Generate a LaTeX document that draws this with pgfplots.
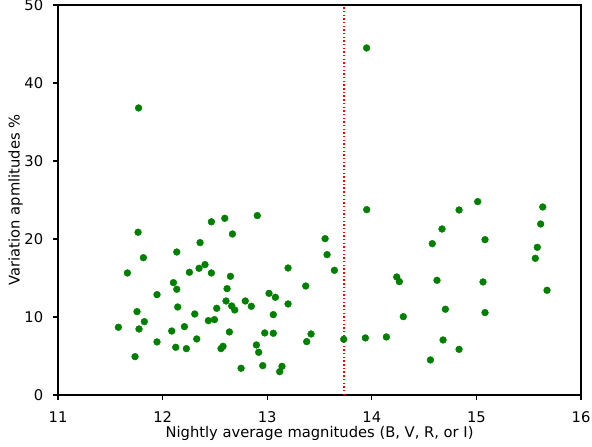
\documentclass[border=0pt]{standalone}
\usepackage{pgfplots}
\pgfplotsset{compat=1.18}
\usepackage{fontspec}
\setmainfont{DejaVu Sans}
\definecolor{mplgreen}{HTML}{008000}
\begin{document}
\begin{tikzpicture}
\begin{axis}[
  name=ax,
  scale only axis,
  width=376.6pt, height=280.8pt,
  xmin=11, xmax=16, ymin=0, ymax=50,
  xtick={11,12,...,16}, ytick={0,10,...,50},
  tick align=outside, xtick pos=bottom, ytick pos=left,
  major tick length=3.5pt,
  tick style={line width=0.8pt, black},
  axis line style={line width=0.8pt},
  /pgf/number format/assume math mode=true,
  ticklabel style={font=\fontsize{10.6}{12}\selectfont},
  xticklabel style={yshift=-5pt},
  yticklabel style={xshift=-3.7pt},
  every axis x label/.style={at={([yshift=-30.5pt]axis description cs:0.5,0)}, anchor=base, font=\fontsize{10.6}{12}\selectfont},
  every axis y label/.style={at={([xshift=-27.6pt]axis description cs:0,0.5)}, anchor=base, rotate=90, font=\fontsize{10.6}{12}\selectfont},
  xlabel={Nightly average magnitudes (B, V, R, or I)},
  ylabel={Variation apmlitudes \%},
  clip=false,
]
\addplot[only marks, mark=*, mark size=2.45pt, mark options={solid, fill=mplgreen, draw=mplgreen, line width=0.3pt}] coordinates {
(11.765,20.86) (12.905,23.0) (12.466,22.2) (12.594,22.65) (12.667,20.64)
(12.358,19.53) (12.135,18.33) (11.816,17.6) (11.663,15.64) (12.256,15.73)
(12.348,16.24) (12.405,16.71) (12.466,15.64) (12.648,15.21) (13.199,16.28)
(13.368,13.97) (12.103,14.4) (12.135,13.55) (11.946,12.86) (12.616,13.63)
(13.017,13.03) (13.078,12.52) (12.606,12.05) (12.79,12.05) (12.848,11.37)
(12.66,11.41) (12.689,10.9) (12.517,11.11) (12.144,11.28) (13.199,11.67)
(13.058,10.3) (12.307,10.38) (11.755,10.68) (12.437,9.53) (12.495,9.66)
(11.825,9.4) (11.577,8.68) (11.774,8.46) (12.208,8.76) (12.087,8.2)
(12.638,8.08) (12.976,7.95) (13.058,7.91) (11.946,6.8) (12.326,7.18)
(12.125,6.11) (12.227,5.94) (12.577,6.24) (12.558,5.94) (12.896,6.41)
(12.918,5.47) (11.736,4.91) (12.75,3.42) (12.957,3.76) (13.141,3.67)
(13.119,2.99) (13.419,7.82) (13.377,6.84)
(13.553,20.04) (13.572,17.99) (13.642,15.98) (13.731,7.14) (13.951,23.76)
(13.938,7.31) (14.139,7.44) (14.238,15.13) (14.263,14.53) (14.301,10.04)
(14.578,19.4) (14.671,21.28) (14.623,14.7) (14.703,10.99) (14.681,7.05)
(14.56,4.49) (14.834,5.85) (14.834,23.72) (15.012,24.79) (15.082,19.91)
(15.063,14.49) (15.082,10.56) (15.634,24.1) (15.614,21.92) (15.582,18.93)
(15.563,17.52) (15.675,13.42)
(11.77,36.8) (13.95,44.49)
};
\addplot[red, line width=1pt, dash pattern=on 1pt off 1.65pt] coordinates {(13.735,0) (13.735,50)};
\end{axis}
\pgfresetboundingbox
\path[use as bounding box] ([shift={(-41.8pt,-37.4pt)}]ax.south west) rectangle ([shift={(7.9pt,3.6pt)}]ax.north east);
\end{tikzpicture}
\end{document}
